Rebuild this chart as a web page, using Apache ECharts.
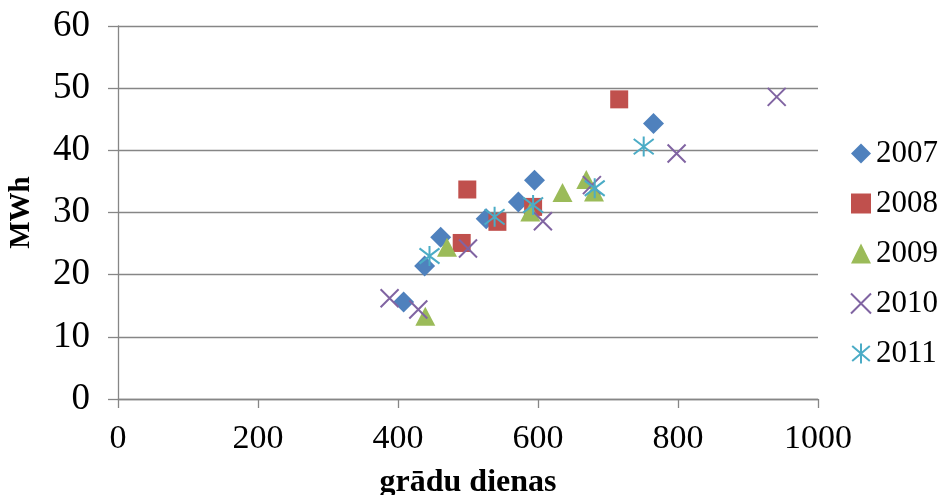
<!DOCTYPE html>
<html>
<head>
<meta charset="utf-8">
<script src="https://cdn.jsdelivr.net/npm/echarts@6/dist/echarts.min.js"></script>
<style>
  html, body { margin: 0; padding: 0; background: #fff; }
  #chart { width: 941px; height: 495px; }
</style>
</head>
<body>
<div id="chart"></div>
<script>
// Heating degree-days vs. consumed energy, one series per year
const years = ['2007', '2008', '2009', '2010', '2011'];

const x2007 = [408, 438, 461, 526, 572, 595, 765];
const y2007 = [15.6, 21.4, 26.0, 29.0, 31.7, 35.2, 44.3];

const x2008 = [491, 499, 542, 593, 716];
const y2008 = [25.1, 33.7, 28.5, 30.9, 48.2];

const x2009 = [439, 470, 589, 635, 669, 680];
const y2009 = [13.3, 24.4, 30.1, 33.2, 35.3, 33.3];

const x2010 = [388, 429, 500, 607, 677, 798, 941];
const y2010 = [16.2, 14.4, 24.2, 28.6, 34.4, 39.5, 48.6];

const x2011 = [445, 538, 593, 681, 751];
const y2011 = [23.0, 29.3, 31.2, 33.9, 40.6];

const xTicks = [0, 200, 400, 600, 800, 1000];
const yTicks = [0, 10, 20, 30, 40, 50, 60];

const xs = [x2007, x2008, x2009, x2010, x2011];
const ys = [y2007, y2008, y2009, y2010, y2011];

const colors = ['#4F81BD', '#C0504D', '#9BBB59', '#8064A2', '#4BACC6'];
const CROSS = 'path://M0,0L10,10M10,0L0,10';
const STAR = 'path://M5,0L5,10M0.6,1.2L9.4,8.8M9.4,1.2L0.6,8.8';

function pairs(a, b) { return a.map((v, i) => [v, b[i]]); }

function seriesStyle(i) {
  switch (i) {
    case 0: return { symbol: 'diamond', symbolSize: 21, itemStyle: { color: colors[0], opacity: 1 } };
    case 1: return { symbol: 'rect', symbolSize: 18, itemStyle: { color: colors[1], opacity: 1 } };
    case 2: return { symbol: 'triangle', symbolSize: [20, 19], itemStyle: { color: colors[2], opacity: 1 } };
    case 3: return { symbol: CROSS, symbolSize: 18,
      itemStyle: { color: 'rgba(0,0,0,0)', borderColor: colors[3], borderWidth: 2, opacity: 1 } };
    default: return { symbol: STAR, symbolSize: 20,
      itemStyle: { color: 'rgba(0,0,0,0)', borderColor: colors[4], borderWidth: 2, opacity: 1 } };
  }
}

const series = years.map((name, i) => Object.assign({
  name: name,
  type: 'scatter',
  data: pairs(xs[i], ys[i]),
  emphasis: { disabled: true }
}, seriesStyle(i)));

const FONT = '"Liberation Serif", "Times New Roman", serif';
const GRID_COLOR = '#868686';

const chart = echarts.init(document.getElementById('chart'), null, { renderer: 'canvas' });
chart.setOption({
  animation: false,
  backgroundColor: '#ffffff',
  textStyle: { fontFamily: FONT, color: '#000' },
  grid: { left: 118, right: 123, top: 26, bottom: 96, containLabel: false, outerBoundsMode: 'none' },
  xAxis: {
    type: 'value',
    min: xTicks[0],
    max: xTicks[xTicks.length - 1],
    interval: xTicks[1] - xTicks[0],
    name: 'grādu dienas',
    nameLocation: 'middle',
    nameGap: 68,
    nameTextStyle: { fontFamily: FONT, fontWeight: 'bold', fontSize: 32, color: '#000' },
    axisLine: { show: true, onZero: false, lineStyle: { color: GRID_COLOR, width: 1.3 } },
    axisTick: { show: true, length: 9, lineStyle: { color: GRID_COLOR, width: 1.3 } },
    axisLabel: { fontFamily: FONT, fontSize: 34, color: '#000', margin: 23,
      formatter: v => String(v) },
    splitLine: { show: false }
  },
  yAxis: {
    type: 'value',
    min: yTicks[0],
    max: yTicks[yTicks.length - 1],
    interval: yTicks[1] - yTicks[0],
    name: 'MWh',
    nameLocation: 'middle',
    nameGap: 82,
    nameTextStyle: { fontFamily: FONT, fontWeight: 'bold', fontSize: 29, color: '#000' },
    axisLine: { show: true, lineStyle: { color: GRID_COLOR, width: 1.3 } },
    axisTick: { show: true, length: 10, lineStyle: { color: GRID_COLOR, width: 1.3 } },
    axisLabel: { fontFamily: FONT, fontSize: 37, color: '#000', margin: 28 },
    splitLine: { show: true, lineStyle: { color: GRID_COLOR, width: 1.3 } }
  },
  legend: {
    orient: 'vertical',
    left: 850,
    top: 138,
    padding: 0,
    itemWidth: 20,
    itemHeight: 20,
    itemGap: 19,
    data: years,
    textStyle: { fontFamily: FONT, fontSize: 31, color: '#000' },
    selectedMode: false
  },
  series: series
});
</script>
</body>
</html>
